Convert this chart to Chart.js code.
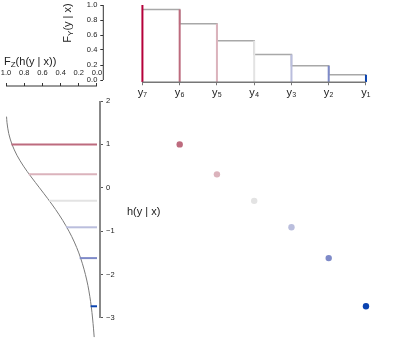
<!DOCTYPE html>
<html>
<head>
<meta charset="utf-8">
<script src="https://cdn.jsdelivr.net/npm/chart.js@4"></script>
<style>
  body { margin: 0; background: #fff; }
  #wrap { position: relative; width: 407px; height: 339px; }
  #wrap canvas { position: absolute; }
</style>
</head>
<body>
<div id="wrap">
  <canvas id="top" width="407" height="100" style="left:0;top:0"></canvas>
  <canvas id="left" width="170" height="289" style="left:0;top:50px"></canvas>
  <canvas id="main" width="407" height="339" style="left:0;top:0"></canvas>
</div>
<script>
// y7 ... y1 along the top axis
const yLabels = ['y\u2087', 'y\u2086', 'y\u2085', 'y\u2084', 'y\u2083', 'y\u2082', 'y\u2081'];
// F_Y(y | x) at y7 ... y1
const fY = [1.0, 0.94, 0.75, 0.525, 0.34, 0.19, 0.07];
// h(y | x) at y6 ... y1
const hVals = [1.0, 0.31, -0.30, -0.91, -1.62, -2.73];
const yColors = ['#b5003a', '#bd6b7e', '#dbb3bc', '#e3e3e3', '#babedd', '#7e8ac8', '#0a43b0'];

// F_Z curve
const curveH = [1.64, 1.5, 1.25, 1.0, 0.75, 0.5, 0.25, 0, -0.25, -0.5, -0.75, -1.0, -1.25, -1.5, -1.75, -2.0, -2.25, -2.5, -2.75, -3.0, -3.25, -3.44];
const curveF = [0.994, 0.989, 0.97, 0.934, 0.88, 0.808, 0.723, 0.632, 0.541, 0.455, 0.377, 0.308, 0.249, 0.2, 0.16, 0.127, 0.1, 0.079, 0.062, 0.049, 0.038, 0.031];

const probTicks = [0, 0.2, 0.4, 0.6, 0.8, 1.0];
const hTicks = [-3, -2, -1, 0, 1, 2];
const idxTicks = [0, 1, 2, 3, 4, 5, 6];

// scale ranges (layout)
const IDX_MIN = -1.05, IDX_MAX = 6.5;
const FY_MIN = -0.03, FY_MAX = 1.04;
const FZ_MIN = -0.033, FZ_MAX = 1.066;
const H_MIN = -3.484, H_MAX = 2.346;

Chart.defaults.font.family = "'Liberation Sans', Arial, sans-serif";
Chart.defaults.color = '#222';
Chart.defaults.animation = false;
Chart.defaults.responsive = false;
Chart.defaults.events = [];
Chart.defaults.layout.autoPadding = false;
Chart.defaults.plugins.legend.display = false;
Chart.defaults.plugins.tooltip.enabled = false;

// R style axis line: only from first to last tick
const rAxis = {
  id: 'rAxis',
  afterDraw(chart, args, opts) {
    const ctx = chart.ctx;
    Object.keys(opts).forEach(id => {
      const s = chart.scales[id];
      const o = opts[id];
      if (!s || !o || !o.color) return;
      const a = s.getPixelForValue(s.ticks[0].value);
      const b = s.getPixelForValue(s.ticks[s.ticks.length - 1].value);
      ctx.save();
      ctx.strokeStyle = o.color;
      ctx.lineWidth = o.width;
      ctx.beginPath();
      if (s.isHorizontal()) {
        const y = s.position === 'top' ? s.bottom : s.top;
        ctx.moveTo(a, y); ctx.lineTo(b, y);
      } else {
        const x = s.position === 'left' ? s.right : s.left;
        ctx.moveTo(x, a); ctx.lineTo(x, b);
      }
      ctx.stroke();
      ctx.restore();
    });
  }
};
Chart.register(rAxis);

function drawRich(ctx, x, y, parts, size, rotate) {
  ctx.save();
  ctx.fillStyle = '#222';
  ctx.textBaseline = 'middle';
  ctx.textAlign = 'left';
  const big = size + "px 'Liberation Sans', Arial, sans-serif";
  const small = Math.round(size * 0.7) + "px 'Liberation Sans', Arial, sans-serif";
  let w = 0;
  parts.forEach(([t, sub]) => { ctx.font = sub ? small : big; w += ctx.measureText(t).width; });
  ctx.translate(x, y);
  let cx = 0;
  if (rotate) { ctx.rotate(-Math.PI / 2); cx = -w / 2; }
  parts.forEach(([t, sub]) => {
    ctx.font = sub ? small : big;
    ctx.fillText(t, cx, sub ? 3 : 0);
    cx += ctx.measureText(t).width;
  });
  ctx.restore();
}

function fixedTicks(vals) {
  return s => { s.ticks = vals.map(v => ({ value: v })); };
}

// fixed axis box size, no extra padding asked from the layout
function fitTo(size) {
  return s => {
    if (s.isHorizontal()) s.height = size; else s.width = size;
    s.paddingTop = s.paddingBottom = s.paddingLeft = s.paddingRight = 0;
  };
}

const fmt1 = v => Number(v).toFixed(1);
const fmtH = v => (v < 0 ? '\u2212' + Math.abs(v) : String(v));

// ---- top panel: F_Y(y | x) steps
const stepData = fY.slice(1).map((f, i) => ({ x: i, y: f }));
stepData.push({ x: fY.length - 1, y: fY[fY.length - 1] });

new Chart(document.getElementById('top'), {
  type: 'line',
  data: {
    datasets: [
      {
        data: stepData, stepped: 'before', borderColor: '#a8a8a8', borderWidth: 1.5,
        pointRadius: 0, order: 1
      },
      ...fY.map((f, k) => ({
        data: [{ x: k, y: FY_MIN }, { x: k, y: f }],
        borderColor: yColors[k], borderWidth: 2, pointRadius: 0, order: 0
      }))
    ]
  },
  options: {
    layout: { padding: { left: 0, top: 2, right: 22.4, bottom: 0 } },
    scales: {
      x: {
        type: 'linear', min: IDX_MIN, max: IDX_MAX,
        afterBuildTicks: fixedTicks(idxTicks),
        afterFit: fitTo(17.75),
        grid: { drawOnChartArea: false, tickLength: 3, color: '#777' },
        border: { display: false },
        ticks: { callback: v => yLabels[v], font: { size: 11 }, padding: 1, maxRotation: 0, autoSkip: false }
      },
      y: {
        min: FY_MIN, max: FY_MAX,
        afterBuildTicks: fixedTicks(probTicks),
        afterFit: fitTo(103.3),
        grid: { drawOnChartArea: false, tickLength: 3, color: '#333' },
        border: { display: false },
        ticks: { callback: fmt1, font: { size: 7.5 }, padding: 3, autoSkip: false }
      }
    },
    plugins: { rAxis: { x: { color: '#777', width: 1.5 }, y: { color: '#333', width: 1 } } }
  },
  plugins: [{
    id: 'fyTitle',
    afterDraw(chart) {
      drawRich(chart.ctx, 68, chart.scales.y.getPixelForValue(0.76),
        [['F', 0], ['Y', 1], ['(y | x)', 0]], 11, true);
    }
  }]
});

// ---- left panel: F_Z(h(y | x))
new Chart(document.getElementById('left'), {
  type: 'line',
  data: {
    datasets: [
      {
        data: curveH.map((h, i) => ({ x: curveF[i], y: h })),
        borderColor: '#7a7a7a', borderWidth: 1, pointRadius: 0, tension: 0.3, order: 1
      },
      ...hVals.map((h, i) => ({
        data: [{ x: fY[i + 1], y: h }, { x: 0, y: h }],
        borderColor: yColors[i + 1], borderWidth: 2, pointRadius: 0, order: 0
      }))
    ]
  },
  options: {
    layout: { padding: 0 },
    scales: {
      x: {
        type: 'linear', position: 'top', reverse: true, min: FZ_MIN, max: FZ_MAX,
        afterBuildTicks: fixedTicks(probTicks),
        afterFit: fitTo(36),
        grid: { drawOnChartArea: false, tickLength: 3, color: '#333' },
        border: { display: false },
        ticks: { callback: fmt1, font: { size: 7.5 }, padding: 6, maxRotation: 0, autoSkip: false }
      },
      y: {
        type: 'linear', position: 'right', min: H_MIN, max: H_MAX,
        afterBuildTicks: fixedTicks(hTicks),
        afterFit: fitTo(70),
        grid: { drawOnChartArea: false, tickLength: 3, color: '#555' },
        border: { display: false },
        ticks: { callback: fmtH, font: { size: 7.5 }, padding: 3, autoSkip: false }
      }
    },
    plugins: { rAxis: { x: { color: '#333', width: 1 }, y: { color: '#888', width: 2 } } }
  },
  plugins: [{
    id: 'fzTitle',
    afterDraw(chart) {
      drawRich(chart.ctx, 4, 12, [['F', 0], ['Z', 1], ['(h(y | x))', 0]], 11, false);
      drawRich(chart.ctx, chart.scales.y.left + 27, chart.scales.y.getPixelForValue(-0.55),
        [['h(y | x)', 0]], 11, false);
    }
  }]
});

// ---- main panel: h(y | x) points
new Chart(document.getElementById('main'), {
  type: 'scatter',
  data: {
    datasets: [{
      data: hVals.map((h, i) => ({ x: i + 1, y: h })),
      pointBackgroundColor: yColors.slice(1),
      pointBorderWidth: 0, pointRadius: 3.2
    }]
  },
  options: {
    layout: { padding: { left: 103.3, right: 22.4, top: 86, bottom: 0 } },
    scales: {
      x: { type: 'linear', display: false, min: IDX_MIN, max: IDX_MAX },
      y: { type: 'linear', display: false, min: H_MIN, max: H_MAX }
    }
  }
});
</script>
</body>
</html>
